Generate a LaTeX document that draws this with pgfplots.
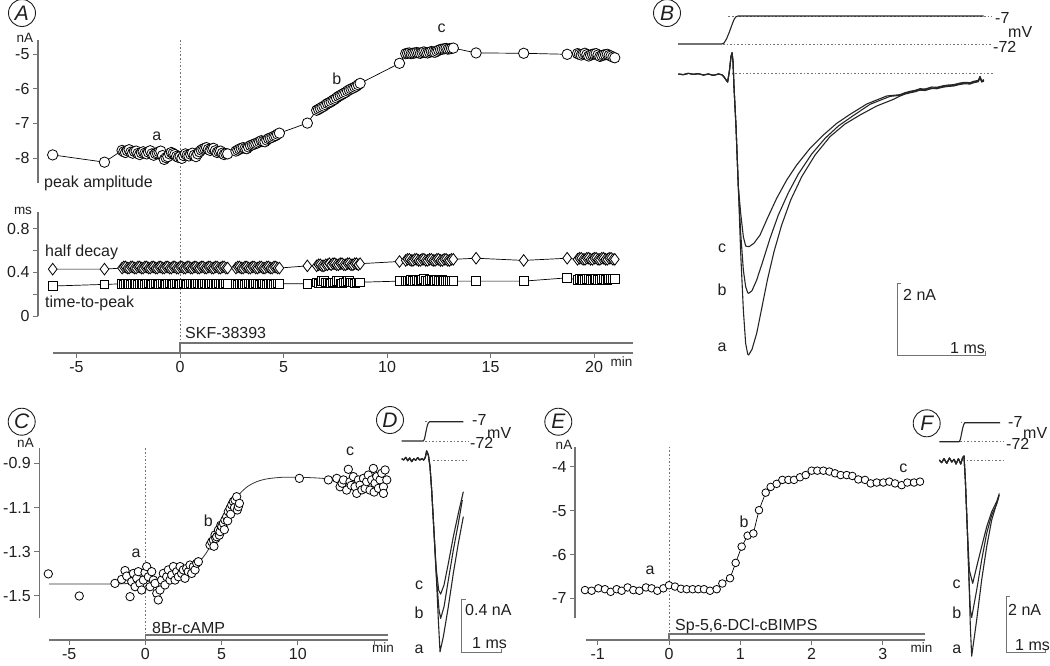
\documentclass[border=0pt]{standalone}
\usepackage{pgfplots}
\pgfplotsset{compat=1.18}
\usepackage{pgfplotstable}
\usepackage{fontspec}
\setmainfont{Liberation Sans}

\definecolor{axgray}{gray}{0.45}
\definecolor{txt}{gray}{0.12}
\newcommand\fs{\fontsize{16}{19}\selectfont}
\newcommand\fu{\fontsize{13.5}{16}\selectfont}

\pgfplotsset{
  panel/.style={scale only axis, clip=false, anchor=south west,
    axis x line=none, axis y line*=left, xtick=\empty,
    axis line style={draw=axgray, line width=1.1pt},
    tick align=outside, major tick length=5pt,
    tick style={draw=axgray, line width=1pt},
    ticklabel style={font=\fs, text=txt}},
  timeax/.style={scale only axis, clip=false, anchor=south west,
    axis y line=none, axis x line*=bottom, ytick=\empty, ymin=0, ymax=1,
    axis line style={draw=axgray, line width=1.1pt},
    tick align=outside, major tick length=5pt,
    tick style={draw=axgray, line width=1pt},
    ticklabel style={font=\fs, text=txt}},
  trace/.style={scale only axis, clip=false, anchor=south west, hide axis},
}

% panel A: one row per recorded response
\pgfplotstableread{
t amp half ttp
-6.15 -7.91 0.43 0.275
-3.65 -8.12 0.43 0.290
-2.80 -7.78 0.44 0.295
-2.715 -7.82 0.45 0.29
-2.63 -7.84 0.45 0.295
-2.545 -7.79 0.44 0.30
-2.46 -7.76 0.44 0.295
-2.375 -7.83 0.45 0.29
-2.29 -7.86 0.45 0.295
-2.205 -7.81 0.44 0.30
-2.12 -7.80 0.44 0.295
-2.035 -7.87 0.45 0.29
-1.95 -7.90 0.45 0.295
-1.865 -7.85 0.44 0.30
-1.78 -7.82 0.44 0.295
-1.695 -7.86 0.45 0.29
-1.61 -7.88 0.45 0.295
-1.525 -7.83 0.44 0.30
-1.44 -7.79 0.44 0.295
-1.355 -7.88 0.45 0.29
-1.27 -7.92 0.45 0.295
-1.185 -7.87 0.44 0.30
-1.10 -7.85 0.44 0.295
-1.015 -7.82 0.45 0.29
-0.93 -7.80 0.45 0.295
-0.845 -7.93 0.44 0.30
-0.76 -8.04 0.44 0.295
-0.675 -7.99 0.45 0.29
-0.59 -7.96 0.45 0.295
-0.505 -7.88 0.44 0.30
-0.42 -7.84 0.44 0.295
-0.335 -7.87 0.45 0.29
-0.25 -7.90 0.45 0.295
-0.165 -7.95 0.44 0.30
-0.08 -7.98 0.44 0.295
0.005 -7.96 0.45 0.29
0.09 -8.01 0.45 0.295
0.175 -7.93 0.44 0.30
0.26 -7.88 0.44 0.295
0.345 -7.92 0.45 0.29
0.43 -7.94 0.45 0.295
0.515 -7.89 0.44 0.30
0.60 -7.86 0.44 0.295
0.685 -7.92 0.45 0.29
0.77 -7.96 0.45 0.295
0.855 -7.88 0.44 0.30
0.94 -7.82 0.44 0.295
1.025 -7.77 0.45 0.29
1.11 -7.74 0.45 0.295
1.195 -7.72 0.44 0.30
1.28 -7.70 0.44 0.295
1.365 -7.75 0.45 0.29
1.45 -7.78 0.45 0.295
1.535 -7.74 0.44 0.30
1.62 -7.72 0.44 0.295
1.705 -7.79 0.45 0.29
1.79 -7.84 0.45 0.295
1.875 -7.81 0.44 0.30
1.96 -7.80 0.44 0.295
2.045 -7.86 0.45 0.29
2.13 -7.90 0.45 0.295
2.215 -7.87 0.44 0.30
2.30 -7.88 0.44 0.295
2.70 -7.80 0.44 0.295
2.79 -7.77 0.45 0.29
2.875 -7.74 0.45 0.295
2.96 -7.72 0.44 0.30
3.05 -7.70 0.44 0.295
3.14 -7.72 0.45 0.29
3.225 -7.73 0.45 0.295
3.31 -7.68 0.44 0.30
3.40 -7.64 0.44 0.295
3.49 -7.62 0.45 0.29
3.575 -7.60 0.45 0.295
3.66 -7.58 0.44 0.30
3.75 -7.56 0.44 0.295
3.84 -7.53 0.45 0.29
3.925 -7.50 0.45 0.295
4.01 -7.52 0.44 0.30
4.10 -7.53 0.44 0.295
4.19 -7.48 0.45 0.29
4.275 -7.44 0.45 0.295
4.36 -7.42 0.44 0.30
4.45 -7.40 0.44 0.295
4.54 -7.37 0.45 0.29
4.625 -7.35 0.45 0.295
4.71 -7.31 0.44 0.30
4.80 -7.28 0.44 0.295
6.15 -6.99 0.46 0.295
6.60 -6.62 0.46 0.31
6.69 -6.59 0.47 0.30
6.775 -6.56 0.47 0.30
6.86 -6.53 0.46 0.32
6.95 -6.50 0.46 0.32
7.04 -6.46 0.47 0.31
7.125 -6.42 0.47 0.31
7.21 -6.40 0.48 0.30
7.30 -6.37 0.47 0.30
7.39 -6.33 0.48 0.31
7.475 -6.30 0.48 0.31
7.56 -6.26 0.47 0.32
7.65 -6.22 0.47 0.32
7.74 -6.19 0.48 0.30
7.825 -6.16 0.48 0.30
7.91 -6.13 0.47 0.31
8.00 -6.10 0.47 0.31
8.09 -6.06 0.48 0.32
8.175 -6.03 0.48 0.32
8.26 -6.00 0.47 0.31
8.35 -5.98 0.47 0.31
8.44 -5.95 0.48 0.30
8.525 -5.92 0.48 0.31
8.61 -5.88 0.47 0.31
8.70 -5.84 0.48 0.31
10.6 -5.26 0.50 0.32
10.90 -4.98 0.51 0.32
10.99 -4.97 0.52 0.32
11.08 -4.96 0.52 0.32
11.165 -4.98 0.51 0.33
11.25 -4.97 0.51 0.32
11.34 -4.96 0.52 0.32
11.43 -4.95 0.52 0.33
11.52 -4.96 0.51 0.32
11.61 -4.97 0.51 0.32
11.695 -4.95 0.52 0.33
11.78 -4.93 0.52 0.34
11.87 -4.95 0.51 0.32
11.96 -4.96 0.51 0.32
12.05 -4.94 0.52 0.33
12.14 -4.92 0.52 0.33
12.23 -4.93 0.51 0.32
12.32 -4.94 0.51 0.32
12.405 -4.91 0.52 0.33
12.49 -4.88 0.52 0.32
12.58 -4.86 0.51 0.32
12.67 -4.85 0.51 0.33
12.76 -4.84 0.52 0.32
12.85 -4.83 0.52 0.32
12.935 -4.85 0.51 0.32
13.02 -4.84 0.51 0.32
13.11 -4.83 0.52 0.32
13.20 -4.82 0.52 0.32
14.3 -4.96 0.53 0.32
16.6 -4.97 0.51 0.32
18.7 -5.00 0.53 0.35
19.20 -4.98 0.52 0.33
19.29 -5.00 0.53 0.34
19.38 -5.02 0.53 0.34
19.47 -4.99 0.52 0.33
19.56 -4.97 0.52 0.33
19.65 -5.01 0.53 0.34
19.74 -5.05 0.53 0.34
19.83 -5.02 0.52 0.33
19.92 -5.00 0.52 0.33
20.01 -4.99 0.53 0.34
20.10 -4.98 0.53 0.34
20.19 -5.02 0.52 0.33
20.28 -5.06 0.52 0.33
20.37 -5.04 0.53 0.34
20.46 -5.02 0.53 0.34
20.55 -5.01 0.52 0.33
20.64 -5.00 0.52 0.33
20.73 -5.03 0.53 0.34
20.82 -5.05 0.53 0.34
20.91 -5.08 0.52 0.34
21.00 -5.10 0.52 0.34
}\tabA

\begin{document}
\begin{tikzpicture}[
  lab/.style={inner sep=0pt, font=\fs, text=txt},
  unit/.style={inner sep=0pt, font=\fu, text=txt},
  letter/.style={circle, draw=txt, line width=0.9pt, minimum size=27pt, inner sep=0pt,
    font=\fontsize{21}{24}\selectfont\itshape, text=txt},
  dotline/.style={axgray, line width=0.9pt, dash pattern=on 1.6pt off 2pt},
  sbar/.style={axgray, line width=1pt},
  tr/.style={black!85, line width=1.1pt, line join=round},
  omark/.style={mark=*, mark options={solid, fill=white, draw=black, line width=0.8pt}}]
\useasboundingbox (0,0) rectangle (1050pt,-665pt);

% ---------------- A: peak amplitude
\begin{axis}[panel, at={(38pt,-183pt)}, width=595pt, height=143pt,
  xmin=-6.86, xmax=21.88, ymin=-8.723, ymax=-4.586,
  ytick={-8,-7,-6,-5}, yticklabels={-8,-7,-6,-5}]
\draw[dotline] (axis cs:0,-4.586) -- (axis cs:0,-13.351);
\addplot[black, line width=0.7pt, omark, mark size=5.2pt] table[x=t, y=amp] {\tabA};
\end{axis}

% ---------------- A: half decay and time-to-peak
\begin{axis}[panel, at={(38pt,-316pt)}, width=595pt, height=104pt,
  xmin=-6.86, xmax=21.88, ymin=0, ymax=0.954,
  ytick={0,0.2,0.4,0.6,0.8}, yticklabels={0,,0.4,,0.8}]
\addplot[black, line width=0.7pt, mark=diamond*, mark size=5.8pt,
  mark options={solid, fill=white, draw=black, line width=0.8pt}] table[x=t, y=half] {\tabA};
\addplot[black, line width=0.7pt, mark=square*, mark size=4.3pt,
  mark options={solid, fill=white, draw=black, line width=0.8pt}] table[x=t, y=ttp] {\tabA};
\end{axis}

% ---------------- A: time axis
\begin{axis}[timeax, at={(53pt,-353pt)}, width=580pt, height=10pt,
  xmin=-6.135, xmax=21.88,
  xtick={-5,0,5,10,15,20}, xticklabels={-5,0,5,10,15,20}]
\draw[axgray, line width=1.1pt] (axis cs:0,0) |- (axis cs:21.88,1);
\end{axis}

% ---------------- B: voltage step
\begin{axis}[trace, at={(678pt,-47.45pt)}, width=317.9pt, height=34.46pt,
  xmin=0, xmax=3.6, ymin=-80, ymax=0]
\draw[dotline] (axis cs:0.57,-7) -- (axis cs:3.56,-7);
\draw[dotline] (axis cs:0.51,-72) -- (axis cs:3.56,-72);
\addplot[tr] coordinates {(0,-72) (0.495,-72) (0.52,-70) (0.55,-60) (0.58,-45) (0.61,-28) (0.635,-15) (0.655,-9) (0.68,-7) (3.46,-7)};
\end{axis}

% ---------------- B: currents a, b, c
\begin{axis}[trace, at={(678pt,-359.9pt)}, width=317.9pt, height=322.2pt,
  xmin=0, xmax=3.6, ymin=-8, ymax=1]
\draw[dotline] (axis cs:0.61,0) -- (axis cs:3.57,0);
\addplot[tr] coordinates {(0.004,-0.014) (0.060,-0.033) (0.117,0.005) (0.174,-0.023) (0.230,-0.005) (0.287,-0.042) (0.344,-0.014) (0.400,-0.051) (0.457,-0.014) (0.495,-0.033) (0.513,-0.070) (0.540,-0.163) (0.562,-0.237) (0.581,0.051) (0.600,0.47) (0.612,0.58) (0.623,0.33) (0.634,-0.368) (0.657,-1.485) (0.683,-3.161)
 (0.710,-3.906) (0.740,-4.558) (0.766,-4.818) (0.789,-4.832) (0.808,-4.832) (0.861,-4.739) (0.929,-4.511) (1.012,-4.046) (1.117,-3.487) (1.231,-2.975) (1.344,-2.556) (1.495,-2.090) (1.646,-1.718) (1.797,-1.392) (1.948,-1.141) (2.137,-0.852) (2.363,-0.628)
 (2.514,-0.591) (2.571,-0.535) (2.627,-0.498) (2.684,-0.470) (2.741,-0.424) (2.797,-0.433) (2.873,-0.377) (2.929,-0.386) (3.005,-0.340) (3.062,-0.321) (3.118,-0.312) (3.194,-0.265) (3.250,-0.247) (3.307,-0.256) (3.345,-0.219) (3.401,-0.191) (3.420,-0.079) (3.439,-0.200) (3.465,-0.172)};
\addplot[tr] coordinates {(0.004,-0.014) (0.060,-0.033) (0.117,0.005) (0.174,-0.023) (0.230,-0.005) (0.287,-0.042) (0.344,-0.014) (0.400,-0.051) (0.457,-0.014) (0.495,-0.033) (0.513,-0.070) (0.540,-0.163) (0.562,-0.237) (0.581,0.051) (0.600,0.47) (0.612,0.58) (0.623,0.33) (0.634,-0.368) (0.657,-1.485) (0.683,-3.161)
 (0.710,-4.465) (0.740,-5.489) (0.766,-5.954) (0.789,-6.122) (0.800,-6.140) (0.838,-6.066) (0.891,-5.768) (0.959,-5.256) (1.042,-4.604) (1.136,-3.953) (1.250,-3.329) (1.363,-2.807) (1.514,-2.249) (1.665,-1.811) (1.816,-1.466) (1.967,-1.206) (2.174,-0.861) (2.401,-0.638)
 (2.514,-0.61) (2.571,-0.555) (2.627,-0.52) (2.684,-0.49) (2.741,-0.445) (2.797,-0.455) (2.873,-0.40) (2.929,-0.405) (3.005,-0.36) (3.062,-0.34) (3.118,-0.33) (3.194,-0.285) (3.250,-0.265) (3.307,-0.275) (3.345,-0.24) (3.401,-0.21) (3.420,-0.10) (3.439,-0.22) (3.465,-0.19)};
\addplot[tr] coordinates {(0.004,-0.014) (0.060,-0.033) (0.117,0.005) (0.174,-0.023) (0.230,-0.005) (0.287,-0.042) (0.344,-0.014) (0.400,-0.051) (0.457,-0.014) (0.495,-0.033) (0.513,-0.070) (0.540,-0.163) (0.562,-0.237) (0.581,0.051) (0.600,0.47) (0.612,0.58) (0.623,0.33) (0.634,-0.368) (0.657,-1.485) (0.683,-3.161)
 (0.710,-5.024) (0.740,-6.606) (0.766,-7.537) (0.789,-7.835) (0.800,-7.863) (0.838,-7.705) (0.891,-7.258) (0.948,-6.560) (1.012,-5.768) (1.087,-4.977) (1.174,-4.232) (1.276,-3.534) (1.401,-2.882) (1.552,-2.277) (1.721,-1.764) (1.891,-1.411) (2.061,-1.159) (2.250,-0.908) (2.439,-0.722)
 (2.514,-0.63) (2.571,-0.575) (2.627,-0.54) (2.684,-0.51) (2.741,-0.465) (2.797,-0.475) (2.873,-0.42) (2.929,-0.425) (3.005,-0.38) (3.062,-0.36) (3.118,-0.35) (3.194,-0.305) (3.250,-0.285) (3.307,-0.295) (3.345,-0.26) (3.401,-0.23) (3.420,-0.12) (3.439,-0.24) (3.465,-0.21)};
\draw[sbar] (axis cs:2.53,-5.86) -- (axis cs:2.48,-5.86) -- (axis cs:2.48,-7.863) -- (axis cs:3.48,-7.863) -- (axis cs:3.48,-7.75);
\end{axis}

% ---------------- C: 8Br-cAMP
\begin{axis}[panel, at={(39.3pt,-618.3pt)}, width=349pt, height=170pt,
  xmin=-6.95, xmax=15.93, ymin=-1.601, ymax=-0.832,
  ytick={-1.5,-1.3,-1.1,-0.9}, yticklabels={-1.5,-1.3,-1.1,-0.9}]
\draw[dotline] (axis cs:0,-0.832) -- (axis cs:0,-1.6675);
\addplot[black!80, line width=0.8pt, smooth] coordinates {(-6.3,-1.446) (-4,-1.446) (-2.1,-1.446) (-1,-1.443) (0,-1.436) (1,-1.420) (2,-1.400) (2.7,-1.382) (3.2,-1.362) (3.6,-1.340) (4.0,-1.305) (4.5,-1.245) (5.0,-1.180) (5.4,-1.125) (5.8,-1.075) (6.2,-1.037) (6.7,-1.005) (7.3,-0.983) (8.0,-0.970) (9.0,-0.963) (10.1,-0.963) (11.2,-0.966) (12.4,-0.972)};
\addplot[only marks, omark, mark size=4.2pt] coordinates {
 (-6.36,-1.400) (-4.33,-1.500) (-1.99,-1.443)
 (-1.55,-1.425) (-1.33,-1.385) (-1.22,-1.410) (-1.00,-1.503) (-0.89,-1.435) (-0.78,-1.398) (-0.67,-1.458) (-0.56,-1.420) (-0.46,-1.390) (-0.35,-1.443) (-0.24,-1.473) (-0.13,-1.428) (-0.02,-1.394) (0.09,-1.367) (0.20,-1.413) (0.31,-1.458) (0.42,-1.390) (0.53,-1.428)
 (0.64,-1.443) (0.75,-1.488) (0.85,-1.518) (0.96,-1.473) (1.07,-1.428) (1.18,-1.398) (1.29,-1.450) (1.40,-1.413) (1.51,-1.382) (1.62,-1.428) (1.73,-1.405) (1.84,-1.367) (1.95,-1.428) (2.06,-1.390) (2.17,-1.413) (2.28,-1.367) (2.38,-1.398) (2.49,-1.382) (2.60,-1.420) (2.71,-1.375) (2.82,-1.390) (2.93,-1.360) (3.04,-1.398) (3.15,-1.367) (3.26,-1.382) (3.37,-1.352) (3.48,-1.345)
 (4.24,-1.269) (4.35,-1.255) (4.46,-1.247) (4.50,-1.275) (4.57,-1.224) (4.62,-1.240) (4.68,-1.232) (4.79,-1.202) (4.85,-1.225) (4.90,-1.209) (4.95,-1.18) (5.01,-1.186) (5.12,-1.171) (5.18,-1.20) (5.22,-1.156) (5.33,-1.141) (5.40,-1.16) (5.44,-1.119) (5.55,-1.104) (5.60,-1.13) (5.66,-1.088) (5.77,-1.073) (5.85,-1.10) (5.88,-1.066) (5.99,-1.051) (6.03,-1.111) (6.10,-1.096) (6.17,-1.081)
 (10.10,-0.968) (12.00,-0.975)
 (12.55,-0.968) (12.77,-1.006) (12.9,-0.99) (12.99,-0.975) (13.20,-1.021) (13.31,-0.927) (13.42,-0.983) (13.5,-1.00) (13.64,-0.960) (13.75,-1.006) (13.86,-1.036) (13.97,-0.975) (14.08,-0.998) (14.2,-1.02) (14.30,-0.968) (14.41,-1.013) (14.51,-0.983) (14.62,-0.953) (14.73,-1.021) (14.84,-0.975) (14.95,-0.923) (15.0,-1.03) (15.06,-0.990) (15.17,-0.960) (15.28,-1.013) (15.39,-0.975) (15.50,-0.945) (15.61,-1.006) (15.61,-1.036) (15.72,-0.930) (15.83,-0.975)};
\end{axis}

\begin{axis}[timeax, at={(49.3pt,-640pt)}, width=339pt, height=5pt,
  xmin=-6.30, xmax=15.93,
  xtick={-5,0,5,10,15}, xticklabels={-5,0,5,10,{}}]
\draw[axgray, line width=1.1pt] (axis cs:0,0) |- (axis cs:15.93,1);
\end{axis}

% ---------------- D: traces
\begin{axis}[trace, at={(401.7pt,-443.4pt)}, width=104pt, height=23.75pt,
  xmin=0, xmax=2.6, ymin=-80, ymax=0]
\draw[dotline] (axis cs:0.58,-7) -- (axis cs:0.72,-7);
\draw[dotline] (axis cs:0.583,-72) -- (axis cs:1.666,-72);
\addplot[tr] coordinates {(0,-72) (0.54,-72) (0.57,-65) (0.60,-45) (0.63,-25) (0.66,-12) (0.69,-8) (0.72,-7) (1.54,-7)};
\end{axis}

\begin{axis}[trace, at={(401.7pt,-674.3pt)}, width=104pt, height=240.3pt,
  xmin=0, xmax=2.6, ymin=-1.6, ymax=0.2]
\draw[dotline] (axis cs:0.79,0) -- (axis cs:1.62,0);
\addplot[tr] coordinates {(0,0.015) (0.05,0.005) (0.10,0.025) (0.15,0.0) (0.20,0.020) (0.25,-0.007) (0.30,0.015) (0.35,0.003) (0.40,0.023) (0.45,0.005) (0.50,0.015) (0.55,0.005) (0.59,0.025) (0.624,0.073) (0.666,0.043) (0.708,-0.045) (0.749,-0.22) (0.791,-0.444)
 (0.858,-0.794) (0.924,-0.969) (0.974,-0.999) (1.058,-0.931) (1.166,-0.769) (1.291,-0.569) (1.416,-0.394) (1.541,-0.232)};
\addplot[tr] coordinates {(0,0.015) (0.05,0.005) (0.10,0.025) (0.15,0.0) (0.20,0.020) (0.25,-0.007) (0.30,0.015) (0.35,0.003) (0.40,0.023) (0.45,0.005) (0.50,0.015) (0.55,0.005) (0.59,0.025) (0.624,0.073) (0.666,0.043) (0.708,-0.045) (0.749,-0.22) (0.791,-0.444)
 (0.874,-0.894) (0.933,-1.119) (0.974,-1.181) (1.058,-1.094) (1.166,-0.894) (1.291,-0.669) (1.416,-0.469) (1.516,-0.294)};
\addplot[tr] coordinates {(0,0.015) (0.05,0.005) (0.10,0.025) (0.15,0.0) (0.20,0.020) (0.25,-0.007) (0.30,0.015) (0.35,0.003) (0.40,0.023) (0.45,0.005) (0.50,0.015) (0.55,0.005) (0.59,0.025) (0.624,0.073) (0.666,0.043) (0.708,-0.045) (0.749,-0.22) (0.791,-0.444)
 (0.874,-0.919) (0.916,-1.193) (0.958,-1.431) (1.041,-1.318) (1.166,-1.093) (1.291,-0.843) (1.416,-0.619) (1.541,-0.419)};
\draw[sbar] (axis cs:1.6,-1.038) -- (axis cs:1.5,-1.038) -- (axis cs:1.5,-1.438) -- (axis cs:2.5,-1.438) -- (axis cs:2.5,-1.408);
\end{axis}

% ---------------- E: Sp-5,6-DCl-cBIMPS
\begin{axis}[panel, at={(575pt,-618.3pt)}, width=350pt, height=171.6pt,
  xmin=-1.318, xmax=3.59, ymin=-7.453, ymax=-3.544,
  ytick={-7,-6,-5,-4}, yticklabels={-7,-6,-5,-4}]
\draw[dotline] (axis cs:0,-3.544) -- (axis cs:0,-7.811);
\addplot[black, line width=0.7pt, omark, mark size=3.8pt] coordinates {
 (-1.178,-6.81) (-1.085,-6.825) (-0.991,-6.77) (-0.898,-6.79) (-0.818,-6.85) (-0.734,-6.79) (-0.664,-6.825) (-0.580,-6.75) (-0.500,-6.81) (-0.416,-6.825) (-0.323,-6.75) (-0.243,-6.77) (-0.164,-6.825) (-0.079,-6.77) (0.0,-6.70) (0.084,-6.73) (0.168,-6.78) (0.248,-6.79) (0.332,-6.79) (0.411,-6.79) (0.491,-6.79) (0.575,-6.825) (0.669,-6.79) (0.748,-6.66) (0.856,-6.54) (0.935,-6.19) (1.019,-5.82) (1.103,-5.57) (1.183,-5.52) (1.262,-4.99) (1.356,-4.59) (1.426,-4.46) (1.510,-4.39) (1.590,-4.30) (1.674,-4.30) (1.753,-4.30) (1.837,-4.24) (1.917,-4.19) (2.001,-4.09) (2.080,-4.09) (2.165,-4.09) (2.249,-4.11) (2.328,-4.15) (2.408,-4.19) (2.492,-4.19) (2.571,-4.21) (2.655,-4.29) (2.749,-4.30) (2.828,-4.38) (2.913,-4.36) (3.006,-4.36) (3.090,-4.34) (3.170,-4.38) (3.263,-4.42) (3.343,-4.36) (3.436,-4.36) (3.520,-4.34)};
\end{axis}

\begin{axis}[timeax, at={(586pt,-640pt)}, width=339pt, height=6pt,
  xmin=-1.164, xmax=3.59,
  xtick={-1,0,1,2,3}, xticklabels={-1,0,1,2,3}]
\draw[axgray, line width=1.1pt] (axis cs:0,0) |- (axis cs:3.59,1);
\end{axis}

% ---------------- F: traces
\begin{axis}[trace, at={(939.3pt,-444.04pt)}, width=109.2pt, height=23.38pt,
  xmin=0, xmax=2.8, ymin=-80, ymax=0]
\draw[dotline] (axis cs:0.55,-7) -- (axis cs:0.66,-7);
\draw[dotline] (axis cs:0.531,-72) -- (axis cs:1.642,-72);
\addplot[tr] coordinates {(0,-72) (0.51,-72) (0.54,-64) (0.57,-45) (0.60,-25) (0.63,-12) (0.66,-7) (1.56,-7)};
\end{axis}

\begin{axis}[trace, at={(939.3pt,-684.7pt)}, width=109.2pt, height=252pt,
  xmin=0, xmax=2.8, ymin=-8, ymax=1]
\draw[dotline] (axis cs:0.70,0) -- (axis cs:1.64,0);
\addplot[tr] coordinates {(0.0,0.025) (0.06,-0.070) (0.12,0.073) (0.19,-0.094) (0.26,0.096) (0.32,-0.046) (0.38,0.049) (0.43,-0.118) (0.49,0.073) (0.55,-0.118) (0.60,0.12) (0.633,0.168) (0.668,-0.69) (0.719,-2.48)
 (0.770,-3.90) (0.856,-4.38) (0.958,-3.79) (1.086,-3.07) (1.215,-2.36) (1.343,-1.82) (1.471,-1.46) (1.539,-1.17)};
\addplot[tr] coordinates {(0.0,0.025) (0.06,-0.070) (0.12,0.073) (0.19,-0.094) (0.26,0.096) (0.32,-0.046) (0.38,0.049) (0.43,-0.118) (0.49,0.073) (0.55,-0.118) (0.60,0.12) (0.633,0.168) (0.668,-0.69) (0.719,-2.48) (0.762,-4.26)
 (0.796,-5.33) (0.830,-5.60) (0.958,-4.62) (1.086,-3.55) (1.215,-2.59) (1.343,-1.94) (1.471,-1.55) (1.521,-1.31)};
\addplot[tr] coordinates {(0.0,0.025) (0.06,-0.070) (0.12,0.073) (0.19,-0.094) (0.26,0.096) (0.32,-0.046) (0.38,0.049) (0.43,-0.118) (0.49,0.073) (0.55,-0.118) (0.60,0.12) (0.633,0.168) (0.668,-0.69) (0.719,-2.48) (0.762,-4.26)
 (0.796,-5.93) (0.830,-6.98) (0.958,-5.69) (1.086,-4.26) (1.215,-3.07) (1.343,-2.12) (1.471,-1.52) (1.539,-1.23)};
\draw[sbar] (axis cs:1.81,-4.857) -- (axis cs:1.71,-4.857) -- (axis cs:1.71,-6.857) -- (axis cs:2.71,-6.857) -- (axis cs:2.71,-6.717);
\end{axis}

% ---------------- labels
\node[letter] at (22pt,-13pt) {A};
\node[letter] at (667pt,-13pt) {B};
\node[letter] at (21.7pt,-421.7pt) {C};
\node[letter] at (390pt,-420pt) {D};
\node[letter] at (558.3pt,-421.7pt) {E};
\node[letter] at (926.7pt,-423.3pt) {F};

\node[unit] at (25pt,-38pt) {nA};
\node[unit] at (23pt,-211pt) {ms};
\node[lab, anchor=west] at (44pt,-183pt) {peak amplitude};
\node[lab, anchor=west] at (45pt,-252pt) {half decay};
\node[lab, anchor=west] at (45pt,-303pt) {time-to-peak};
\node[lab] at (156.7pt,-136.7pt) {a};
\node[lab] at (336.7pt,-78.3pt) {b};
\node[lab] at (441.7pt,-28.3pt) {c};
\node[lab, anchor=west] at (185pt,-333pt) {SKF-38393};
\node[unit] at (621.5pt,-362pt) {min};

\node[lab, anchor=west] at (995pt,-18pt) {-7};
\node[lab, anchor=west] at (1008pt,-32pt) {mV};
\node[lab, anchor=west] at (993pt,-47pt) {-72};
\node[lab] at (722pt,-248pt) {c};
\node[lab] at (722pt,-290pt) {b};
\node[lab] at (722pt,-347pt) {a};
\node[lab, anchor=west] at (903pt,-295pt) {2 nA};
\node[lab] at (967.5pt,-348pt) {1 ms};

\node[unit] at (25.5pt,-443pt) {nA};
\node[lab] at (136pt,-553.3pt) {a};
\node[lab] at (208.3pt,-520.7pt) {b};
\node[lab] at (350pt,-451.7pt) {c};
\node[lab, anchor=west] at (152pt,-628pt) {8Br-cAMP};
\node[unit] at (383pt,-648pt) {min};

\node[lab, anchor=west] at (472pt,-420pt) {-7};
\node[lab, anchor=west] at (470pt,-443pt) {-72};
\node[lab, anchor=west] at (487pt,-433pt) {mV};
\node[lab] at (419pt,-585pt) {c};
\node[lab] at (419pt,-613pt) {b};
\node[lab] at (419pt,-649pt) {a};
\node[lab, anchor=west] at (465pt,-610pt) {0.4 nA};
\node[lab, anchor=west] at (472pt,-643pt) {1 ms};

\node[unit] at (564pt,-445pt) {nA};
\node[lab] at (650pt,-570pt) {a};
\node[lab] at (744pt,-521.7pt) {b};
\node[lab] at (903.3pt,-468.3pt) {c};
\node[lab, anchor=west] at (675pt,-626pt) {Sp-5,6-DCl-cBIMPS};
\node[unit] at (921.5pt,-648pt) {min};

\node[lab, anchor=west] at (1008pt,-421.7pt) {-7};
\node[lab, anchor=west] at (1006pt,-444pt) {-72};
\node[lab, anchor=west] at (1023pt,-433pt) {mV};
\node[lab] at (956.7pt,-584pt) {c};
\node[lab] at (956.7pt,-612.3pt) {b};
\node[lab] at (956.7pt,-649.3pt) {a};
\node[lab, anchor=west] at (1008pt,-610pt) {2 nA};
\node[lab, anchor=west] at (1015pt,-645pt) {1 ms};
\end{tikzpicture}
\end{document}
